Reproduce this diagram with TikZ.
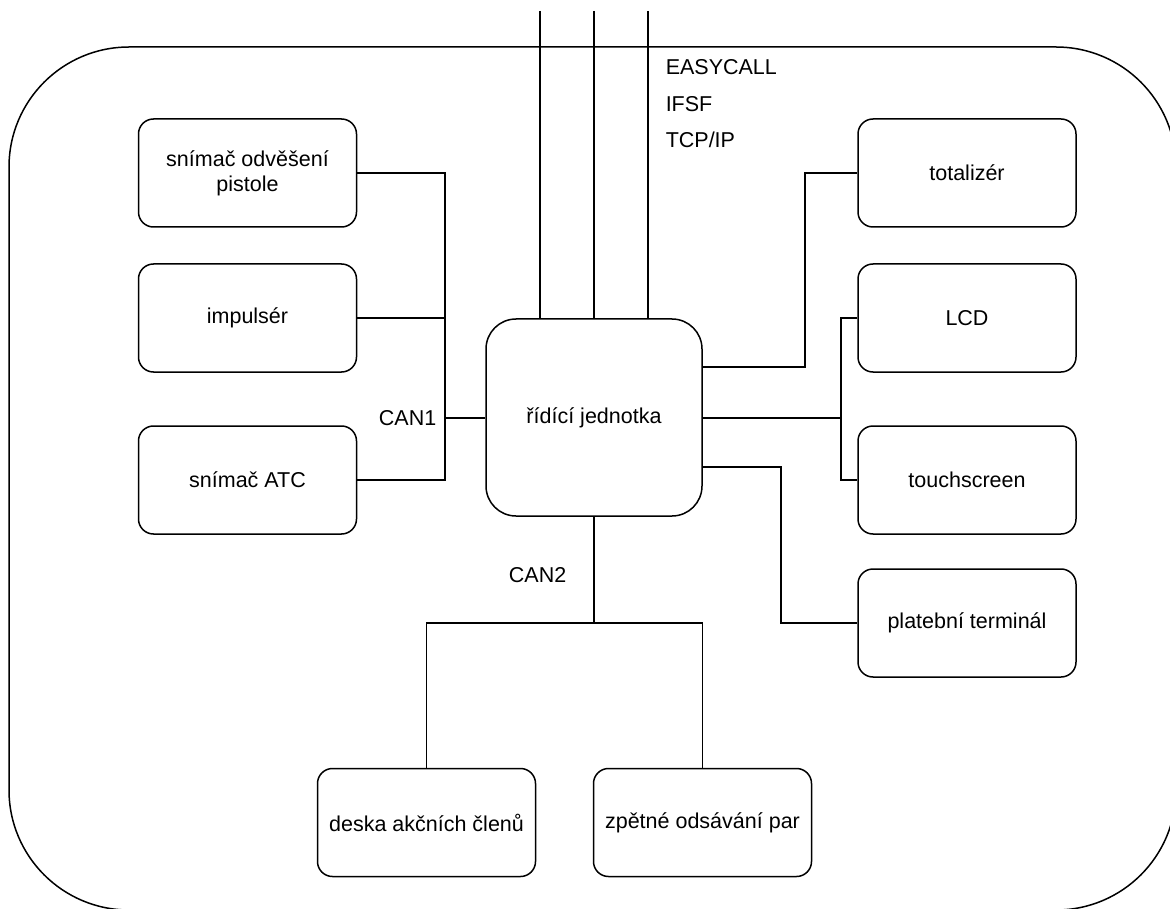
\documentclass[tikz,border=0pt]{standalone}
\usepackage{fontspec}
\setmainfont{Liberation Sans}
\usetikzlibrary{positioning}

\begin{document}
\begin{tikzpicture}[x=1pt,y=-1pt,line width=1.5pt,
  unit/.style={draw,rounded corners=15pt,minimum width=218pt,minimum height=108pt,
    align=center,inner sep=0pt,font=\fontsize{21.5}{25}\selectfont},
  buslabel/.style={inner sep=0pt,font=\fontsize{21.5}{25}\selectfont}]
  \def\LX{247.5} % střed levého sloupce
  \def\RX{967}   % střed pravého sloupce

  \clip (0,0) rectangle (1170,909);

  % ================= vnější obrys stojanu =================
  \draw[rounded corners=120pt] (9,47) rectangle (1176,910);

  % ================= řídící jednotka =================
  \node[unit,minimum width=216pt,minimum height=197pt,rounded corners=30pt] (ctrl) at (594,417.5) {řídící jednotka};

  % ================= levá strana (CAN1) =================
  \node[unit] (pist) at (\LX,173) {snímač odvěšení\\pistole};
  \node[unit] (imp)  at (\LX,318) {impulsér};
  \node[unit] (atc)  at (\LX,480) {snímač ATC};

  \coordinate (can1bus) at (445,418);
  \draw (pist.east) -- (pist.east -| can1bus) -- (atc.east -| can1bus) -- (atc.east);
  \draw (imp.east) -- (imp.east -| can1bus);
  \draw (can1bus) -- (can1bus -| ctrl.west);
  \node[buslabel,left=8pt of can1bus] (can1) {CAN1};

  % ================= pravá strana =================
  \node[unit] (tot)   at (\RX,173) {totalizér};
  \node[unit] (lcd)   at (\RX,318) {LCD};
  \node[unit] (touch) at (\RX,480) {touchscreen};
  \node[unit] (term)  at (\RX,623) {platební terminál};

  \coordinate (totbend) at (805,367);
  \draw (totbend -| ctrl.east) -- (totbend) |- (tot.west);
  \coordinate (dispbus) at (841,418);
  \draw (dispbus -| ctrl.east) -- (dispbus);
  \draw (lcd.west) -| (dispbus) |- (touch.west);
  \coordinate (termbend) at (781,467);
  \draw (termbend -| ctrl.east) -- (termbend) |- (term.west);

  % ================= horní rozhraní =================
  \foreach \x/\n in {540/a,594/b,648/c}{
    \coordinate (top\n) at (\x,11);
    \draw (top\n) -- (top\n |- ctrl.north);
  }
  \node[buslabel,anchor=base west] (easy) at (665,75)  {EASYCALL};
  \node[buslabel,anchor=base west] (ifsf) at (665,112) {IFSF};
  \node[buslabel,anchor=base west] (tcp)  at (665,148) {TCP/IP};

  % ================= spodní strana (CAN2) =================
  \node[unit] (deska) at (426.5,822.5) {deska akčních členů};
  \node[unit] (zpet)  at (702.5,822.5) {zpětné odsávání par};

  \coordinate (can2bus) at (594,623);
  \draw (ctrl.south) -- (can2bus);
  \draw (deska.north) |- (can2bus) -| (zpet.north);
  \node[buslabel,anchor=base east] (can2) at (567,582) {CAN2};
\end{tikzpicture}
\end{document}
